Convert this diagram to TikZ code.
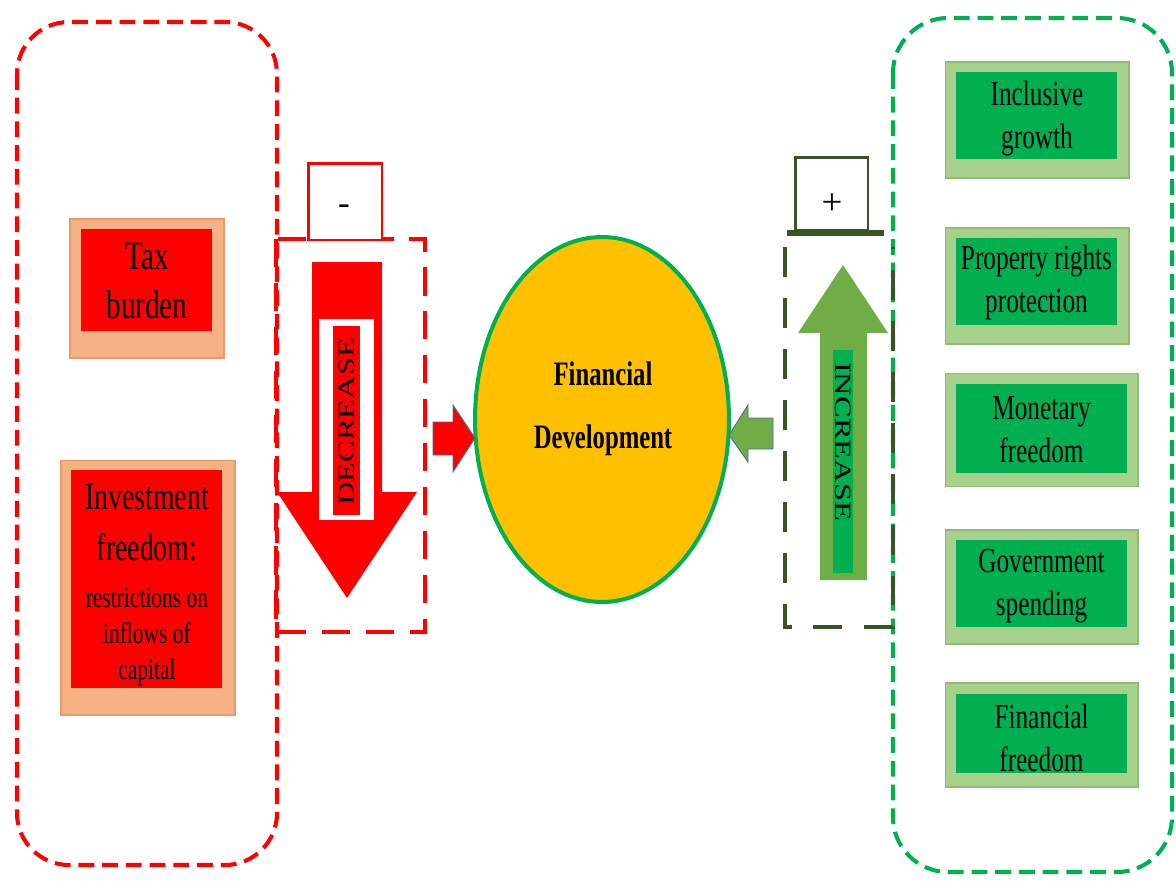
\documentclass[tikz,border=0pt]{standalone}
\usepackage{fontspec}
\setmainfont{Liberation Serif}[FakeStretch=0.72]
\newfontfamily\plainfont{Liberation Serif}
\usetikzlibrary{shapes.geometric}
\definecolor{fdred}{HTML}{FF0000}
\definecolor{salmon}{HTML}{F4B183}
\definecolor{salmonedge}{HTML}{E89A6A}
\definecolor{fdgreen}{HTML}{00B050}
\definecolor{lgreen}{HTML}{A9D18E}
\definecolor{lgreenedge}{HTML}{8FBC72}
\definecolor{agreen}{HTML}{70AD47}
\definecolor{dkgreen}{HTML}{375623}
\definecolor{gold}{HTML}{FFC000}
\definecolor{blueedge}{HTML}{41719C}
\begin{document}
\begin{tikzpicture}[x=0.02cm,y=-0.02cm,
  bigdash/.style={line width=2.3pt, dash pattern=on 9pt off 4.5pt},
  tout/.style={fill=salmon, draw=salmonedge, line width=0.6pt, inner sep=0},
  tin/.style={fill=fdred, inner sep=0},
  gout/.style={fill=lgreen, draw=lgreenedge, line width=0.6pt, inner sep=0},
  gin/.style={fill=fdgreen, inner sep=0},
  gtxt/.style={font=\fontsize{20}{24.4}\selectfont, align=center, inner sep=0},
  signbox/.style={fill=white, line width=1.7pt, inner sep=0},
  blockarrow/.style={draw=blueedge, line width=0.5pt}
]
\useasboundingbox (0,0) rectangle (1176,880);

% big dashed containers
\draw[bigdash, fdred, rounded corners=1.04cm] (17,22) rectangle (277,865);
\draw[bigdash, fdgreen, rounded corners=1.1cm] (893,18) rectangle (1172,872);

% small dashed frames
\draw[fdred, line width=2.3pt, dash pattern=on 16pt off 9pt] (276,239) rectangle (425,632);
\draw[dkgreen, line width=2.6pt, dash pattern=on 17pt off 12pt] (785,247) -- (785,627) -- (893,627) -- (893,247);

% sign boxes
\node[signbox, draw=fdred, minimum width=1.48cm, minimum height=1.54cm] (minusbox) at (345,201.5) {};
\node[inner sep=0, font=\plainfont\fontsize{20}{20}\selectfont] (minus) at (344,210) {-};
\node[signbox, draw=dkgreen, minimum width=1.46cm, minimum height=1.46cm] (plusbox) at (831.5,193.5) {};
\draw[dkgreen, line width=3pt] (787,233) -- (884,233);
\node[inner sep=0, font=\plainfont\fontsize{21}{21}\selectfont] (plus) at (832,204) {+};

% left boxes
\node[tout, minimum width=3.08cm, minimum height=2.78cm] (taxo) at (147,288.5) {};
\node[tin, minimum width=2.62cm, minimum height=2.04cm] (taxi) at (146.5,280) {};
\node[inner sep=0, align=center, font=\fontsize{23}{28}\selectfont] (taxt) at (147,281) {Tax\\burden};

\node[tout, minimum width=3.48cm, minimum height=5.10cm] (invo) at (148,587.5) {};
\node[tin, minimum width=3.02cm, minimum height=4.36cm] (invi) at (146.5,579) {};
\node[inner sep=0, align=center, font=\fontsize{22}{29}\selectfont] (invt1) at (147,523) {Investment\\freedom:};
\node[inner sep=0, align=center, font=\fontsize{17}{20.5}\selectfont] (invt2) at (147,637) {restrictions on\\inflows of\\capital};

% down arrow
\fill[fdred] (312,262) -- (382,262) -- (382,492) -- (417,492) -- (347,598) -- (277,492) -- (312,492) -- cycle;
\fill[white] (319,319) rectangle (374,520);
\node[fill=fdred, inner sep=0, minimum width=0.54cm, minimum height=3.78cm] (decbox) at (346.5,420.5) {};
\node[inner sep=0, rotate=90] (dect) at (347,422) {\scalebox{1}[0.72]{\plainfont\fontsize{18.5}{20}\selectfont DECREASE}};

% up arrow
\fill[agreen] (843,265) -- (888,333) -- (867,333) -- (867,580) -- (820,580) -- (820,333) -- (798,333) -- cycle;
\node[fill=fdgreen, inner sep=0, minimum width=0.4cm, minimum height=4.46cm] (incbox) at (843,461.5) {};
\node[inner sep=0, rotate=-90] (inct) at (843,441.5) {\scalebox{1}[0.72]{\plainfont\fontsize{18.5}{20}\selectfont INCREASE}};

% central ellipse
\node[ellipse, fill=gold, draw=fdgreen, line width=2.3pt, minimum width=5.08cm, minimum height=7.3cm, inner sep=0] (fd) at (602,419.5) {};
\node[inner sep=0, align=center, font=\bfseries\fontsize{19.5}{35.7}\selectfont] (fdt) at (603,408.5) {Financial\\Development};

% small block arrows
\filldraw[fill=fdred, blockarrow] (433,422) -- (453,422) -- (453,405) -- (475,438) -- (453,472) -- (453,455) -- (433,455) -- cycle;
\filldraw[fill=agreen, blockarrow] (729,435) -- (748,405) -- (748,418) -- (773,418) -- (773,449) -- (748,449) -- (748,462) -- cycle;

% right boxes
\node[gout, minimum width=3.68cm, minimum height=2.32cm] (g1o) at (1037,120) {};
\node[gin, minimum width=3.22cm, minimum height=1.74cm] (g1i) at (1036.5,115.5) {};
\node[gtxt] (g1t) at (1037,118.5) {Inclusive\\growth};

\node[gout, minimum width=3.68cm, minimum height=2.32cm] (g2o) at (1037,286) {};
\node[gin, minimum width=3.22cm, minimum height=1.74cm] (g2i) at (1036.5,281.5) {};
\node[gtxt] (g2t) at (1036.5,282.5) {Property rights\\protection};

\node[gout, minimum width=3.86cm, minimum height=2.26cm] (g3o) at (1041.5,430) {};
\node[gin, minimum width=3.42cm, minimum height=1.78cm] (g3i) at (1041.5,428.5) {};
\node[gtxt] (g3t) at (1041.5,430) {Monetary\\freedom};

\node[gout, minimum width=3.86cm, minimum height=2.28cm] (g4o) at (1041.5,587) {};
\node[gin, minimum width=3.42cm, minimum height=1.74cm] (g4i) at (1041.5,583.5) {};
\node[gtxt] (g4t) at (1041.5,586) {Government\\spending};

\node[gout, minimum width=3.86cm, minimum height=2.08cm] (g5o) at (1041.5,735) {};
\node[gin, minimum width=3.42cm, minimum height=1.58cm] (g5i) at (1041.5,733.5) {};
\node[gtxt] (g5t) at (1041.5,738) {Financial\\freedom};
\end{tikzpicture}
\end{document}
